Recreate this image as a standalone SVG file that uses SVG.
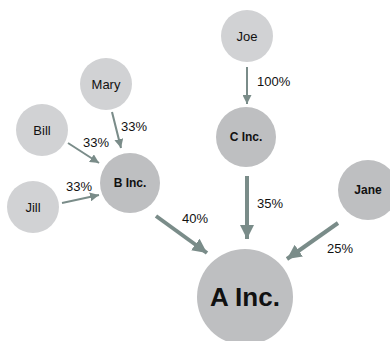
<svg xmlns="http://www.w3.org/2000/svg" width="390" height="341" viewBox="0 0 390 341">
<style>
.lt{fill:#d1d2d4}
.dk{fill:#bebfc1}
text{font-family:"Liberation Sans",Arial,sans-serif;fill:#111;text-anchor:middle;dominant-baseline:central}
.n{font-size:13px}
.b{font-size:12px;font-weight:bold}
.p{font-size:13px;text-anchor:start}
.c1{stroke:#7a8c89;stroke-width:2;fill:none}
.c2{stroke:#7a8c89;stroke-width:4;fill:none}
</style>
<defs>
<marker id="ah1" viewBox="0 0 10 10" refX="10" refY="5" markerWidth="4.5" markerHeight="4.5" orient="auto" markerUnits="strokeWidth"><path d="M0,0L10,5L0,10z" fill="#7a8c89"/></marker>
<marker id="ah2" viewBox="0 0 10 10" refX="10" refY="5" markerWidth="3.6" markerHeight="3.6" orient="auto" markerUnits="strokeWidth"><path d="M0,0L10,5L0,10z" fill="#7a8c89"/></marker>
</defs>
<g id="connectors">
<line class="c1" x1="247" y1="67" x2="247" y2="104" marker-end="url(#ah1)"/>
<line class="c1" x1="112" y1="112" x2="121" y2="148" marker-end="url(#ah1)"/>
<line class="c1" x1="68" y1="143" x2="99" y2="163" marker-end="url(#ah1)"/>
<line class="c1" x1="62" y1="203" x2="99" y2="195" marker-end="url(#ah1)"/>
<line class="c2" x1="247" y1="176" x2="247" y2="239" marker-end="url(#ah2)"/>
<line class="c2" x1="156" y1="216" x2="207" y2="253" marker-end="url(#ah2)"/>
<line class="c2" x1="338" y1="223" x2="287" y2="259" marker-end="url(#ah2)"/>
<text class="p" x="257" y="81">100%</text>
<text class="p" x="257" y="203">35%</text>
<text class="p" x="121" y="126">33%</text>
<text class="p" x="83" y="142">33%</text>
<text class="p" x="66" y="186">33%</text>
<text class="p" x="182" y="218">40%</text>
<text class="p" x="327" y="248">25%</text>
</g>
<g id="joe"><circle class="lt" cx="247" cy="36" r="26"/><text class="n" x="247" y="36">Joe</text></g>
<g id="c-inc"><circle class="dk" cx="246" cy="137" r="30"/><text class="b" x="246" y="137">C Inc.</text></g>
<g id="jane"><circle class="dk" cx="368" cy="190" r="30"/><text class="b" x="368" y="190">Jane</text></g>
<g id="mary"><circle class="lt" cx="106" cy="84" r="26"/><text class="n" x="106" y="84">Mary</text></g>
<g id="bill"><circle class="lt" cx="42" cy="130" r="26"/><text class="n" x="42" y="130">Bill</text></g>
<g id="jill"><circle class="lt" cx="33" cy="207" r="26"/><text class="n" x="33" y="207">Jill</text></g>
<g id="b-inc"><circle class="dk" cx="130" cy="183" r="30"/><text class="b" x="130" y="183">B Inc.</text></g>
<g id="a-inc"><circle class="dk" cx="245" cy="297" r="48"/><text x="245" y="297" style="font-size:26px;font-weight:bold">A Inc.</text></g>
</svg>
